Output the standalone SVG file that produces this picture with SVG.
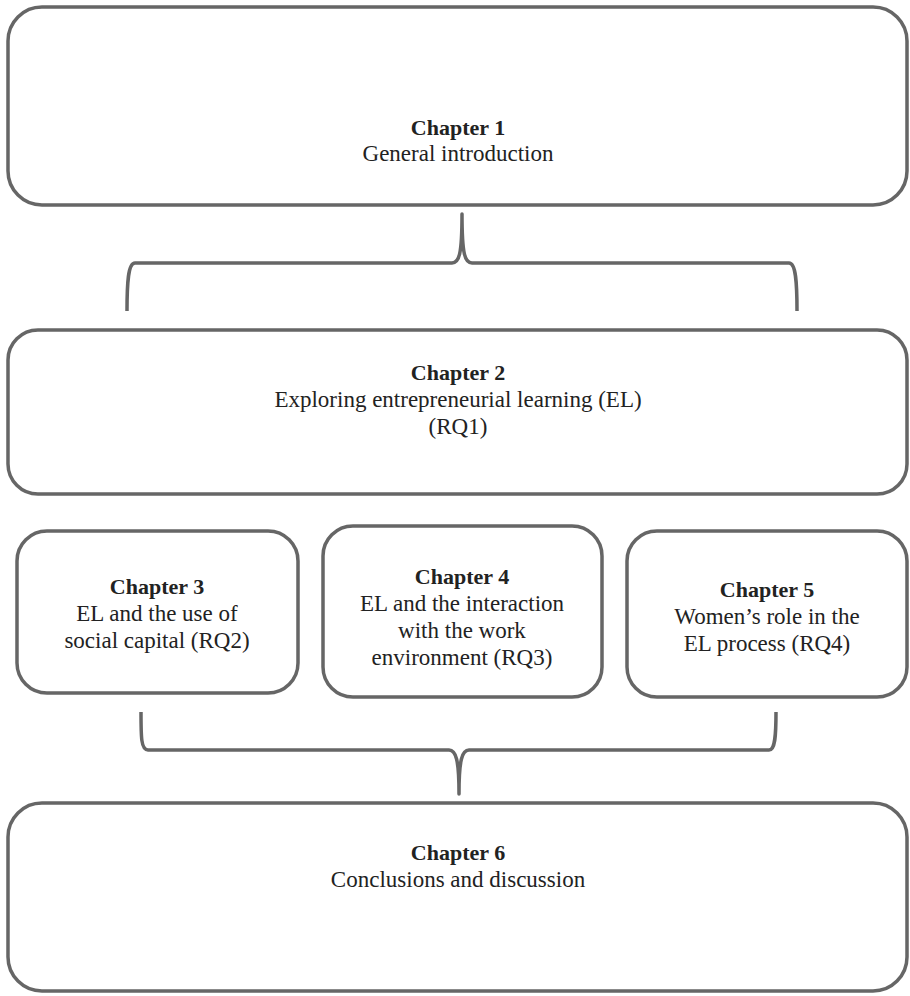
<svg xmlns="http://www.w3.org/2000/svg" width="910" height="996" viewBox="0 0 910 996">
<style>
.box{fill:#fff;stroke:#666;stroke-width:3.5}
.br{fill:none;stroke:#666;stroke-width:3.5;stroke-linejoin:round}
text{font-family:"Liberation Serif","DejaVu Serif",serif;font-size:23px;fill:#222;text-anchor:middle}
.b{font-weight:bold;font-size:22px}
</style>
<rect width="910" height="996" fill="#fff"/>
<g id="connectors">
<path class="br" d="M127,311 C127,283 128,263 135,263 L452,263 C459,263 462,255 462,214 C462,255 465,263 472,263 L789,263 C796,263 797,283 797,311"/>
<path class="br" d="M141,712 C141,737 141,750 148,750 L449,750 C456,750 459,760 459,794 C459,760 462,750 469,750 L769,750 C775,750 776,737 776,712"/>
</g>
<g id="ch1">
<rect class="box" x="8" y="7" width="899" height="198" rx="34"/>
<text x="458" y="135" class="b">Chapter 1</text>
<text x="458" y="161">General introduction</text>
</g>
<g id="ch2">
<rect class="box" x="8" y="330" width="899" height="164" rx="30"/>
<text x="458" y="380" class="b">Chapter 2</text>
<text x="458" y="407">Exploring entrepreneurial learning (EL)</text>
<text x="458" y="434">(RQ1)</text>
</g>
<g id="ch3">
<rect class="box" x="17" y="531" width="281" height="162" rx="30"/>
<text x="157" y="594" class="b">Chapter 3</text>
<text x="157" y="621">EL and the use of</text>
<text x="157" y="648">social capital (RQ2)</text>
</g>
<g id="ch4">
<rect class="box" x="323" y="526" width="279" height="171" rx="30"/>
<text x="462" y="584" class="b">Chapter 4</text>
<text x="462" y="611">EL and the interaction</text>
<text x="462" y="638">with the work</text>
<text x="462" y="665">environment (RQ3)</text>
</g>
<g id="ch5">
<rect class="box" x="627" y="531" width="280" height="166" rx="30"/>
<text x="767" y="597" class="b">Chapter 5</text>
<text x="767" y="624">Women’s role in the</text>
<text x="767" y="651">EL process (RQ4)</text>
</g>
<g id="ch6">
<rect class="box" x="8" y="803" width="899" height="188" rx="34"/>
<text x="458" y="860" class="b">Chapter 6</text>
<text x="458" y="887">Conclusions and discussion</text>
</g>
</svg>
